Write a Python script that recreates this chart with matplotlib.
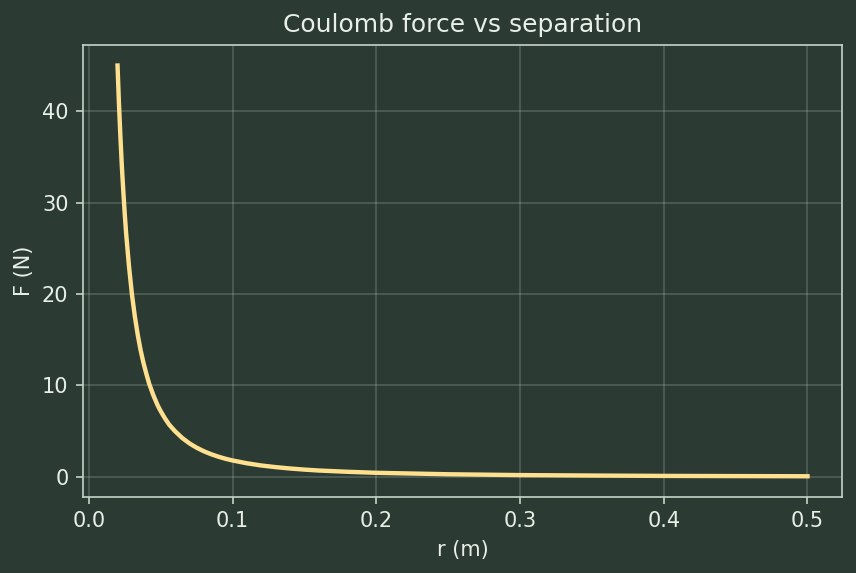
import matplotlib
matplotlib.use("Agg")
from matplotlib import pyplot as plt

# separation (m) and force (N)
r_m = [0.020, 0.021, 0.022, 0.023, 0.024, 0.025, 0.026, 0.028, 0.030, 0.032,
       0.034, 0.036, 0.038, 0.040, 0.042, 0.045, 0.048, 0.050, 0.053, 0.056,
       0.060, 0.065, 0.070, 0.075, 0.080, 0.085, 0.090, 0.095, 0.100, 0.110,
       0.120, 0.130, 0.140, 0.150, 0.160, 0.180, 0.200, 0.250, 0.300, 0.350,
       0.400, 0.450, 0.500]
force_n = [45.0, 40.8, 37.2, 34.0, 31.3, 28.8, 26.6, 23.0, 20.0, 17.6,
           15.6, 13.9, 12.5, 11.3, 10.2, 8.9, 7.8, 7.2, 6.4, 5.7,
           5.0, 4.26, 3.67, 3.2, 2.81, 2.49, 2.22, 1.99, 1.8, 1.49,
           1.25, 1.07, 0.92, 0.80, 0.70, 0.56, 0.45, 0.29, 0.20, 0.15,
           0.11, 0.09, 0.072]

bg = '#2b3b34'
fg = '#e8efe6'
spine = '#c5d3c8'

fig, ax = plt.subplots(figsize=(5.7067, 3.82), dpi=150)
fig.patch.set_facecolor(bg)
ax.set_facecolor(bg)
fig.subplots_adjust(left=0.097, right=0.9836, top=0.9215, bottom=0.133)

ax.plot(r_m, force_n, color='#ffe08f', lw=2.1)

ax.set_title('Coulomb force vs separation', color=fg, fontsize=12)
ax.set_xlabel('r (m)', color=fg, fontsize=10)
ax.set_ylabel('F (N)', color=fg, fontsize=10)
ax.tick_params(colors=spine, labelcolor=fg, labelsize=10)
for s in ax.spines.values():
    s.set_color(spine)
ax.grid(True, color='white', alpha=0.18, lw=0.8)

fig.savefig('out.png', facecolor=bg)
